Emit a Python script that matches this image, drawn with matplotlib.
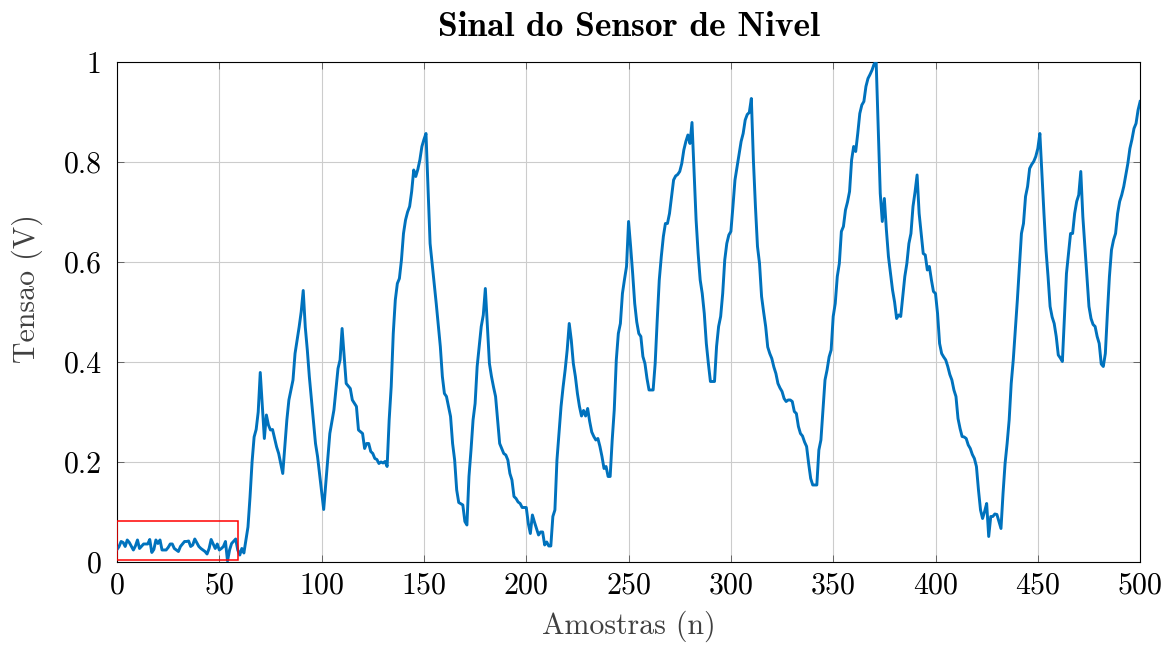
import matplotlib

matplotlib.use("Agg")
import matplotlib.pyplot as plt
from matplotlib.patches import Rectangle
from matplotlib.ticker import FuncFormatter
import numpy as np

# vertices of the sensor trace (sample index, volts)
amostras = [
    0, 1, 2, 3, 4, 5, 6, 8, 9, 10, 11, 13, 14, 15, 16, 17, 18, 19, 20, 21,
    22, 24, 25, 26, 27, 28, 30, 31, 33, 34, 35, 36, 37, 38, 40, 41, 42, 43, 44, 45,
    46, 48, 49, 50, 51, 52, 53, 54, 55, 56, 58, 59, 60, 61, 62, 64, 65, 66, 67, 68,
    69, 70, 72, 73, 74, 75, 76, 78, 79, 80, 81, 83, 84, 86, 87, 88, 89, 90, 91, 92,
    93, 94, 97, 98, 100, 101, 104, 106, 108, 109, 110, 112, 114, 115, 117, 118, 120, 121, 122, 123,
    124, 125, 126, 127, 128, 129, 130, 131, 132, 133, 134, 135, 136, 137, 138, 139, 140, 141, 142, 143,
    144, 145, 146, 147, 148, 149, 150, 151, 153, 154, 156, 158, 159, 160, 161, 163, 164, 165, 166, 167,
    169, 170, 171, 172, 173, 174, 175, 176, 177, 178, 179, 180, 181, 182, 183, 184, 185, 186, 187, 189,
    190, 191, 192, 193, 194, 195, 196, 197, 198, 200, 201, 202, 203, 204, 205, 206, 207, 208, 209, 210,
    211, 212, 213, 214, 215, 216, 217, 218, 219, 220, 221, 222, 223, 224, 225, 226, 227, 228, 229, 230,
    231, 232, 233, 234, 235, 236, 237, 238, 239, 240, 241, 242, 243, 244, 245, 246, 247, 248, 249, 250,
    251, 252, 253, 254, 255, 256, 257, 258, 259, 260, 261, 262, 263, 264, 265, 266, 267, 268, 269, 270,
    271, 272, 273, 274, 275, 276, 277, 278, 279, 280, 281, 282, 283, 284, 285, 286, 287, 288, 289, 290,
    291, 292, 293, 294, 295, 296, 297, 298, 299, 300, 301, 302, 303, 304, 305, 306, 307, 308, 309, 310,
    311, 312, 313, 314, 315, 316, 317, 318, 319, 320, 321, 322, 323, 324, 325, 326, 327, 328, 329, 330,
    331, 332, 333, 334, 335, 336, 337, 338, 339, 340, 341, 342, 343, 344, 345, 346, 347, 348, 349, 350,
    351, 352, 353, 354, 355, 356, 357, 358, 359, 360, 361, 362, 363, 364, 365, 366, 367, 368, 369, 370,
    371, 372, 373, 374, 375, 376, 377, 378, 379, 380, 381, 382, 383, 384, 385, 386, 387, 388, 389, 390,
    391, 392, 393, 394, 395, 396, 397, 398, 399, 400, 401, 402, 403, 404, 405, 406, 407, 408, 409, 410,
    411, 412, 413, 414, 415, 416, 417, 418, 419, 420, 421, 422, 423, 424, 425, 426, 427, 428, 429, 430,
    431, 432, 433, 434, 435, 436, 437, 438, 439, 440, 441, 442, 443, 444, 445, 446, 447, 448, 449, 450,
    451, 452, 453, 454, 455, 456, 457, 458, 459, 460, 461, 462, 463, 464, 465, 466, 467, 468, 469, 470,
    471, 472, 473, 474, 475, 476, 477, 478, 479, 480, 481, 482, 483, 484, 485, 486, 487, 488, 489, 490,
    491, 492, 493, 494, 495, 496, 497, 498, 499, 500,
]
tensao = [
    0.025, 0.031, 0.041, 0.039, 0.031, 0.044, 0.039, 0.024, 0.032, 0.044, 0.027, 0.036, 0.036, 0.036, 0.045, 0.019, 0.025, 0.044, 0.037, 0.044,
    0.024, 0.024, 0.029, 0.036, 0.036, 0.027, 0.021, 0.031, 0.041, 0.041, 0.042, 0.031, 0.034, 0.046, 0.031, 0.027, 0.024, 0.021, 0.016, 0.027,
    0.045, 0.027, 0.036, 0.024, 0.027, 0.031, 0.041, 0.002, 0.024, 0.037, 0.046, 0.024, 0.014, 0.027, 0.018, 0.07, 0.13, 0.2, 0.25, 0.265,
    0.3, 0.379, 0.247, 0.294, 0.274, 0.264, 0.265, 0.23, 0.217, 0.197, 0.177, 0.284, 0.324, 0.364, 0.417, 0.444, 0.47, 0.5, 0.543, 0.47,
    0.424, 0.37, 0.237, 0.211, 0.14, 0.105, 0.257, 0.304, 0.387, 0.404, 0.467, 0.357, 0.347, 0.324, 0.311, 0.264, 0.257, 0.227, 0.237, 0.237,
    0.221, 0.217, 0.207, 0.205, 0.197, 0.2, 0.198, 0.201, 0.191, 0.284, 0.351, 0.457, 0.524, 0.557, 0.567, 0.604, 0.657, 0.684, 0.7, 0.711,
    0.741, 0.784, 0.771, 0.785, 0.804, 0.831, 0.845, 0.857, 0.637, 0.597, 0.517, 0.431, 0.371, 0.337, 0.331, 0.291, 0.237, 0.204, 0.144, 0.119,
    0.114, 0.081, 0.074, 0.171, 0.224, 0.284, 0.317, 0.391, 0.43, 0.471, 0.494, 0.547, 0.471, 0.397, 0.371, 0.35, 0.331, 0.284, 0.237, 0.217,
    0.214, 0.204, 0.177, 0.164, 0.131, 0.127, 0.12, 0.117, 0.109, 0.109, 0.077, 0.057, 0.094, 0.08, 0.067, 0.054, 0.06, 0.06, 0.034, 0.04,
    0.032, 0.032, 0.091, 0.104, 0.204, 0.257, 0.311, 0.35, 0.384, 0.424, 0.477, 0.444, 0.397, 0.371, 0.337, 0.311, 0.292, 0.303, 0.292, 0.307,
    0.281, 0.26, 0.251, 0.244, 0.247, 0.231, 0.211, 0.187, 0.191, 0.171, 0.171, 0.244, 0.304, 0.404, 0.457, 0.477, 0.537, 0.565, 0.591, 0.681,
    0.631, 0.577, 0.517, 0.48, 0.457, 0.451, 0.411, 0.397, 0.367, 0.344, 0.344, 0.344, 0.397, 0.484, 0.564, 0.611, 0.651, 0.677, 0.677, 0.697,
    0.731, 0.764, 0.772, 0.775, 0.781, 0.797, 0.824, 0.841, 0.854, 0.837, 0.879, 0.784, 0.684, 0.617, 0.564, 0.537, 0.497, 0.437, 0.397, 0.361,
    0.361, 0.361, 0.431, 0.471, 0.491, 0.537, 0.604, 0.637, 0.654, 0.661, 0.711, 0.764, 0.79, 0.817, 0.841, 0.857, 0.884, 0.895, 0.899, 0.927,
    0.804, 0.711, 0.631, 0.597, 0.531, 0.5, 0.471, 0.43, 0.417, 0.407, 0.39, 0.377, 0.357, 0.348, 0.341, 0.327, 0.321, 0.324, 0.324, 0.321,
    0.301, 0.297, 0.271, 0.257, 0.252, 0.24, 0.231, 0.197, 0.167, 0.154, 0.154, 0.154, 0.224, 0.244, 0.304, 0.364, 0.384, 0.41, 0.424, 0.491,
    0.517, 0.571, 0.597, 0.661, 0.671, 0.704, 0.72, 0.741, 0.804, 0.831, 0.821, 0.857, 0.897, 0.914, 0.921, 0.951, 0.967, 0.975, 0.984, 0.996,
    1.0, 0.871, 0.737, 0.681, 0.727, 0.664, 0.611, 0.577, 0.544, 0.52, 0.487, 0.494, 0.491, 0.531, 0.571, 0.597, 0.637, 0.657, 0.711, 0.74,
    0.774, 0.697, 0.657, 0.617, 0.614, 0.584, 0.591, 0.564, 0.541, 0.537, 0.497, 0.437, 0.417, 0.41, 0.404, 0.391, 0.375, 0.364, 0.344, 0.331,
    0.287, 0.267, 0.251, 0.25, 0.247, 0.234, 0.227, 0.215, 0.207, 0.191, 0.144, 0.104, 0.087, 0.101, 0.117, 0.051, 0.091, 0.091, 0.096, 0.095,
    0.081, 0.067, 0.137, 0.197, 0.237, 0.284, 0.357, 0.404, 0.464, 0.524, 0.591, 0.657, 0.677, 0.731, 0.751, 0.787, 0.795, 0.801, 0.811, 0.827,
    0.857, 0.777, 0.697, 0.624, 0.571, 0.511, 0.49, 0.477, 0.451, 0.414, 0.408, 0.401, 0.491, 0.577, 0.617, 0.657, 0.657, 0.697, 0.721, 0.734,
    0.781, 0.691, 0.631, 0.571, 0.511, 0.487, 0.475, 0.471, 0.451, 0.437, 0.396, 0.391, 0.417, 0.497, 0.571, 0.624, 0.644, 0.657, 0.697, 0.721,
    0.734, 0.751, 0.774, 0.797, 0.827, 0.845, 0.867, 0.877, 0.904, 0.921,
]

xticks = [0, 50, 100, 150, 200, 250, 300, 350, 400, 450, 500]
yticks = [0, 0.2, 0.4, 0.6, 0.8, 1]

# red zoom box around the initial noise
box_x = [0, 59.3]
box_y = [0.004, 0.081]

plt.rcParams["font.family"] = ["cmr10", "DejaVu Serif"]
plt.rcParams["mathtext.fontset"] = "cm"
plt.rcParams["axes.formatter.use_mathtext"] = True

figure = plt.figure(figsize=(11.69, 6.45), dpi=100)
axes = figure.add_axes([0.1001, 0.1287, 0.8752, 0.7752])

axes.plot(amostras, tensao, color="#0072BD", linewidth=2.1, zorder=3)
axes.add_patch(Rectangle((box_x[0], box_y[0]), box_x[1] - box_x[0], box_y[1] - box_y[0],
                         fill=False, edgecolor="red", linewidth=1.1, zorder=4))

axes.set_xlim(0, 500)
axes.set_ylim(0, 1)
axes.set_xticks(xticks)
axes.set_yticks(yticks)
axes.yaxis.set_major_formatter(FuncFormatter(lambda v, pos: "%g" % v))
axes.grid(True, color="#cccccc", linewidth=0.8)
axes.set_axisbelow(True)
axes.tick_params(direction="in", top=True, right=True, length=5, width=0.6,
                 color="#555555", labelsize=21.5)
axes.tick_params(axis="x", pad=7)
axes.tick_params(axis="y", pad=11)
for spine in axes.spines.values():
    spine.set_linewidth(0.8)

axes.set_title("Sinal do Sensor de Nivel", fontsize=25.5, pad=19,
               fontfamily=["cmb10", "DejaVu Serif"])
axes.set_xlabel("Amostras (n)", fontsize=21.5, color="#404040", labelpad=8)
axes.set_ylabel("Tensao (V)", fontsize=21.5, color="#404040")
axes.yaxis.set_label_coords(-0.072, 0.546)

figure.savefig("out.png", dpi=100)
plt.close(figure)
